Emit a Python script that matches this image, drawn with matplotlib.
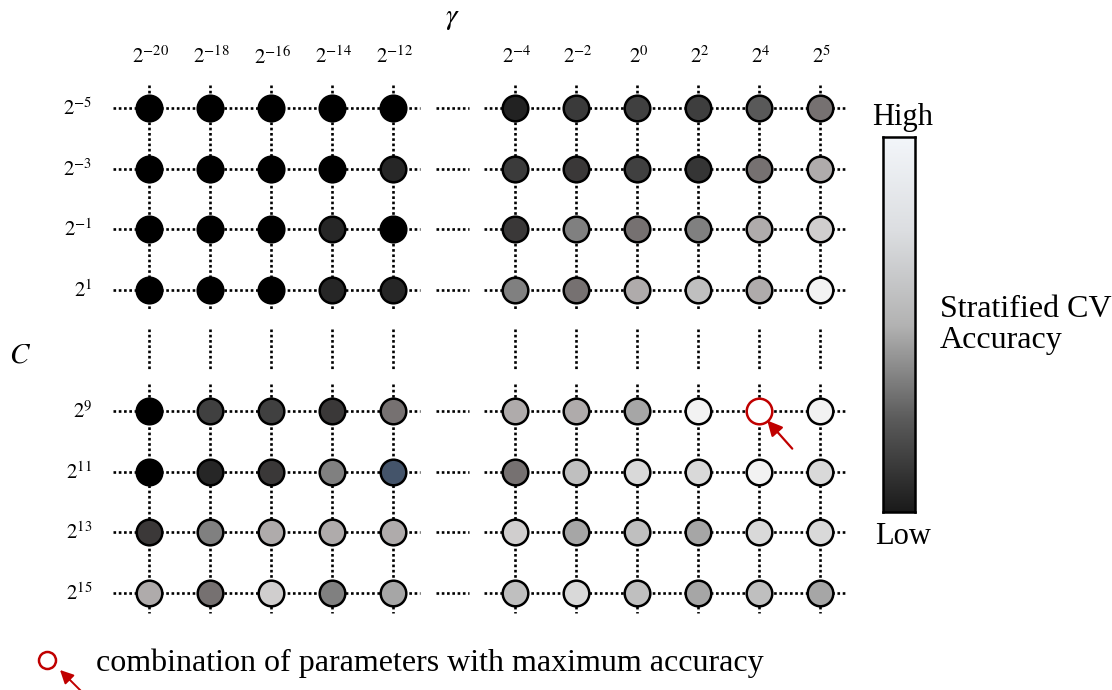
import matplotlib
matplotlib.use("Agg")
import matplotlib.pyplot as plt
import numpy as np
from matplotlib.colors import LinearSegmentedColormap

plt.rcParams["mathtext.fontset"] = "stix"
SERIF = "Liberation Serif"
RED = "#C00000"

# grid of (gamma, C) combinations; columns/rows skip a block in the middle
gamma_exp = ["-20", "-18", "-16", "-14", "-12", "-4", "-2", "0", "2", "4", "5"]
gamma_pos = [0, 1, 2, 3, 4, 6, 7, 8, 9, 10, 11]
c_exp = ["-5", "-3", "-1", "1", "9", "11", "13", "15"]
c_pos = [0, 1, 2, 3, 5, 6, 7, 8]

# fill shade of each circle (stratified CV accuracy, dark = low)
fills = [
    ["#000000", "#000000", "#000000", "#000000", "#000000", "#222222", "#3a3a3a", "#404040", "#3e3e3e", "#595959", "#767171"],
    ["#000000", "#000000", "#000000", "#000000", "#262626", "#3b3b3b", "#3a3838", "#404040", "#353535", "#767171", "#afabab"],
    ["#000000", "#000000", "#000000", "#262626", "#000000", "#3a3838", "#808080", "#767171", "#808080", "#afabab", "#d0cece"],
    ["#000000", "#000000", "#000000", "#262626", "#262626", "#808080", "#767171", "#afabab", "#bfbfbf", "#afabab", "#f2f2f2"],
    ["#000000", "#404040", "#404040", "#3a3838", "#767171", "#afabab", "#afabab", "#a6a6a6", "#f2f2f2", "#ffffff", "#f2f2f2"],
    ["#000000", "#262626", "#3a3838", "#808080", "#44546a", "#767171", "#bfbfbf", "#d9d9d9", "#d9d9d9", "#f2f2f2", "#d9d9d9"],
    ["#3b3838", "#808080", "#afabab", "#afabab", "#afabab", "#d0cece", "#a6a6a6", "#bfbfbf", "#a6a6a6", "#d9d9d9", "#d9d9d9"],
    ["#afabab", "#767171", "#d0cece", "#808080", "#a6a6a6", "#bfbfbf", "#d9d9d9", "#bfbfbf", "#a6a6a6", "#bfbfbf", "#a6a6a6"],
]
best = (4, 9)  # row index (C=2^9), column index (gamma=2^4)

fig = plt.figure(figsize=(11.12, 6.9), dpi=100)
ax = fig.add_axes([0.0791, 0.0878, 0.7131, 0.8084])
ax.set_xlim(-1, 12)
ax.set_ylim(8.6, -0.6)
ax.axis("off")

dot = dict(color="black", lw=1.9, ls=(0, (1, 1)), zorder=1, solid_capstyle="butt")
x_left, x_right = gamma_pos[4], gamma_pos[5]
y_top, y_bot = c_pos[3], c_pos[4]
for y in c_pos:
    ax.plot([-0.59, x_left], [y, y], **dot)
    ax.plot([x_right, 11.44], [y, y], **dot)
    for a, b in [(x_left, 4.45), (4.7, 5.25), (5.5, x_right)]:
        ax.plot([a, b], [y, y], **dot)
for x in gamma_pos:
    ax.plot([x, x], [-0.38, y_top], **dot)
    ax.plot([x, x], [y_bot, 8.33], **dot)
    for a, b in [(y_top, 3.35), (3.65, 4.3), (4.55, y_bot)]:
        ax.plot([x, x], [a, b], **dot)

for i, y in enumerate(c_pos):
    for j, x in enumerate(gamma_pos):
        ec = RED if (i, j) == best else "black"
        ax.scatter(x, y, s=340, c=fills[i][j], edgecolors=ec, linewidths=1.8, zorder=3)

bx, by = gamma_pos[best[1]], c_pos[best[0]]
ax.annotate("", xy=(bx, by), xytext=(24, -27), textcoords="offset points",
            arrowprops=dict(arrowstyle="-|>,head_length=0.9,head_width=0.45", color=RED,
                            lw=1.6, shrinkA=0, shrinkB=9), zorder=4)

for x, e in zip(gamma_pos, gamma_exp):
    ax.text(x + 0.03, -0.85, rf"$2^{{{e.replace('-', '−')}}}$", ha="center", va="center", fontsize=15)
for y, e in zip(c_pos, c_exp):
    ax.text(-0.93, y, rf"$2^{{{e.replace('-', '−')}}}$", ha="right", va="center", fontsize=15)

fig.text(452 / 1112, 1 - 18 / 690, r"$\gamma$", ha="center", va="center", fontsize=21)
fig.text(20 / 1112, 1 - 355 / 690, r"$C$", ha="center", va="center", fontsize=21)

# colour bar
cmap = LinearSegmentedColormap.from_list(
    "acc", [(0, "#1a1a1a"), (0.25, "#5c5c5c"), (0.5, "#b3b3b3"), (0.75, "#dcdee1"), (1, "#f3f6fa")])
cax = fig.add_axes([883 / 1112, 1 - 512 / 690, 32 / 1112, 375 / 690])
cax.imshow(np.linspace(1, 0, 256).reshape(-1, 1), cmap=cmap, aspect="auto",
           extent=(0, 1, 0, 1))
cax.set_xticks([]); cax.set_yticks([])
for s in cax.spines.values():
    s.set_linewidth(1.8)
fig.text(903 / 1112, 1 - 118 / 690, "High", ha="center", va="center", fontsize=22, family=SERIF)
fig.text(903 / 1112, 1 - 536 / 690, "Low", ha="center", va="center", fontsize=22, family=SERIF)
fig.text(940 / 1112, 1 - 325 / 690, "Stratified CV\nAccuracy", ha="left", va="center",
         fontsize=23, family=SERIF, linespacing=1.1)

# legend key
lax = fig.add_axes([0, 0, 1, 1], facecolor="none")
lax.set_xlim(0, 1112); lax.set_ylim(690, 0); lax.axis("off")
lax.scatter([47], [660], s=150, facecolors="white", edgecolors=RED, linewidths=1.8)
lax.annotate("", xy=(60, 670), xytext=(82, 692),
             arrowprops=dict(arrowstyle="-|>,head_length=0.8,head_width=0.4", color=RED,
                             lw=1.4, shrinkA=0, shrinkB=0), annotation_clip=False)
lax.text(96, 663, "combination of parameters with maximum accuracy", ha="left", va="center",
         fontsize=23, family=SERIF)

fig.savefig("out.png", dpi=100)
